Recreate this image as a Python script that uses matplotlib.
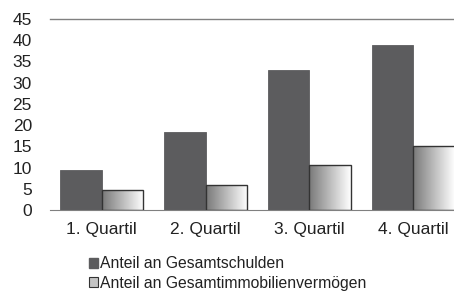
import matplotlib
matplotlib.use("Agg")
import matplotlib.pyplot as plt
import matplotlib.patches as mpatches
import numpy as np

plt.rcParams['font.family'] = ['Liberation Sans', 'DejaVu Sans']

# Data
categories = ["1. Quartil", "2. Quartil", "3. Quartil", "4. Quartil"]
schulden = [9.4, 18.4, 33.0, 38.9]
immobilien = [4.7, 5.9, 10.6, 15.1]
yticks = [0, 5, 10, 15, 20, 25, 30, 35, 40, 45]
labels = ["Anteil an Gesamtschulden", "Anteil an Gesamtimmobilienvermögen"]

dark = "#5c5c5e"
txt = "#222222"

fig = plt.figure(figsize=(4.54, 2.92), dpi=100)
# axes runs past the right edge of the figure, like the cropped original
ax = fig.add_axes([50/454, 0.281, 415/454, 0.654])

x = np.arange(len(categories))
w = 0.4

ax.bar(x - w/2, schulden, width=w, color=dark, edgecolor=dark, linewidth=0.6)

# gradient bars: grey on the left fading to white on the right
grad = np.linspace(0, 1, 256).reshape(1, -1)
for xi, v in zip(x, immobilien):
    left = xi
    im = ax.imshow(grad, cmap="gray", vmin=-0.9, vmax=1.0, aspect="auto",
                   extent=[left, left + w, 0, v], zorder=2, interpolation="bicubic")
    rect = mpatches.Rectangle((left, 0), w, v, facecolor="none",
                              edgecolor="#333333", linewidth=1.0, zorder=3)
    ax.add_patch(rect)
    im.set_clip_path(rect)

ax.set_xlim(-0.5, 3.5)
ax.set_ylim(0, 45)
ax.set_yticks(yticks)
ax.set_xticks(x)
ax.set_xticklabels(categories)
ax.tick_params(axis='both', length=0, labelsize=12.5, colors=txt)
ax.tick_params(axis='y', pad=13)
ax.tick_params(axis='x', pad=9)

for s in ["left", "right", "top"]:
    ax.spines[s].set_visible(False)
ax.spines["bottom"].set_color("#808080")
ax.axhline(45, color="#808080", linewidth=1.0, clip_on=False)

h1 = mpatches.Patch(facecolor=dark, edgecolor=dark)
h2 = mpatches.Patch(facecolor="#c4c4c4", edgecolor="#333333", linewidth=0.8)
fig.legend([h1, h2], labels, loc="center left", bbox_to_anchor=(0.19, 0.063),
           frameon=False, fontsize=11.3, handlelength=0.6, handleheight=0.6,
           handletextpad=0.15, labelspacing=0.3, borderpad=0, labelcolor=txt)
fig.legends[0].set_bbox_to_anchor((0.193 - 0.015, 0.063), transform=fig.transFigure)

fig.savefig("out.png", dpi=100)
